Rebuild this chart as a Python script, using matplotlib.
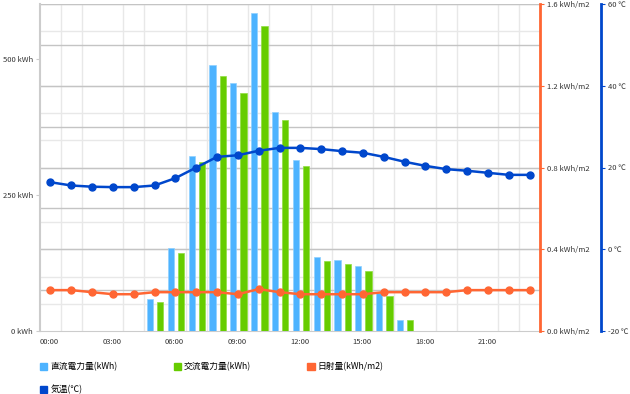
import matplotlib
matplotlib.use("Agg")
import matplotlib.pyplot as plt
import matplotlib.transforms as mtransforms
from matplotlib.patches import Patch
import numpy as np

plt.rcParams["font.family"] = ["Noto Sans CJK JP", "DejaVu Sans"]

hours = list(range(24))
hour_labels = ["00:00", "03:00", "06:00", "09:00", "12:00", "15:00", "18:00", "21:00"]

dc_kwh = [0, 0, 0, 0, 0, 59, 152, 322, 488, 455, 583, 402, 314, 136, 131, 119, 69, 21, 0, 0, 0, 0, 0, 0]
ac_kwh = [0, 0, 0, 0, 0, 54, 144, 310, 468, 437, 560, 387, 303, 128, 123, 111, 65, 20, 0, 0, 0, 0, 0, 0]
solar = [0.20, 0.20, 0.19, 0.18, 0.18, 0.19, 0.19, 0.19, 0.19, 0.18, 0.205, 0.19,
         0.18, 0.18, 0.18, 0.18, 0.19, 0.19, 0.19, 0.19, 0.20, 0.20, 0.20, 0.20]
temp = [16.4, 15.6, 15.3, 15.2, 15.2, 15.6, 17.4, 20.0, 22.6, 23.0, 24.1, 24.8,
        24.8, 24.5, 24.0, 23.6, 22.6, 21.4, 20.4, 19.6, 19.2, 18.7, 18.2, 18.2]

C_DC = "#4db3ff"
C_AC = "#66cc00"
C_SOLAR = "#ff6633"
C_TEMP = "#0047cc"

KWH_MAX = 600
SOLAR_MAX = 1.6

fig = plt.figure(figsize=(6.3, 3.94), dpi=100)
ax = fig.add_axes([40 / 630, 63 / 394, 500 / 630, 327 / 394])
ax2 = ax.twinx()
ax3 = ax.twinx()

x = np.array(hours)
ax.bar(x + 0.28, dc_kwh, width=0.3, color=C_DC, edgecolor="#8fd0ff", linewidth=0.5, zorder=3)
ax.bar(x + 0.77, ac_kwh, width=0.3, color=C_AC, edgecolor="#90dd40", linewidth=0.5, zorder=3)

ax.set_xlim(0, 24)
ax.set_ylim(0, KWH_MAX)
ax.set_yticks([0, 250, 500])
ax.set_yticklabels(["0 kWh", "250 kWh", "500 kWh"])
ax.set_yticks(np.arange(0, KWH_MAX + 1, 50), minor=True)
ax.grid(which="minor", axis="y", color="#e8e8e8", linewidth=1, zorder=0)
# solar-axis grid (every 0.2 kWh/m2), drawn on the base axes so it stays under the bars
for v in np.arange(0.2, SOLAR_MAX + 0.01, 0.2):
    ax.axhline(v / SOLAR_MAX * KWH_MAX, color="#c4c4c4", linewidth=1, zorder=1)
ax.set_xticks(range(0, 24, 3))
ax.set_xticklabels(hour_labels, ha="left")
shift = mtransforms.ScaledTranslation(3 / 100, 0, fig.dpi_scale_trans)
for lbl in ax.get_xticklabels():
    lbl.set_transform(lbl.get_transform() + shift)
ax.set_xticks(range(0, 25), minor=True)
ax.grid(which="minor", axis="x", color="#e8e8e8", linewidth=1, zorder=0)
ax.tick_params(axis="x", which="both", length=0, labelsize=5.5, labelcolor="#333333", pad=5)
ax.tick_params(axis="y", which="major", length=3, color="#cccccc", labelsize=5.5, labelcolor="#333333", pad=2)
ax.tick_params(axis="y", which="minor", length=0)
ax.set_axisbelow(True)
for s in ["top", "right"]:
    ax.spines[s].set_visible(False)
ax.spines["left"].set_color("#cccccc")
ax.spines["left"].set_linewidth(1.5)
ax.spines["bottom"].set_color("#cccccc")

# solar axis
ax2.plot(x + 0.5, solar, color=C_SOLAR, marker="o", markersize=5, linewidth=1.8, zorder=5)
ax2.set_ylim(0, SOLAR_MAX)
ax2.set_yticks([0.0, 0.4, 0.8, 1.2, 1.6])
ax2.set_yticklabels(["0.0 kWh/m2", "0.4 kWh/m2", "0.8 kWh/m2", "1.2 kWh/m2", "1.6 kWh/m2"])
ax2.tick_params(axis="y", length=3, color=C_SOLAR, labelsize=5.5, labelcolor="#333333", pad=2)
for s in ["top", "left", "bottom"]:
    ax2.spines[s].set_visible(False)
ax2.spines["right"].set_color(C_SOLAR)
ax2.spines["right"].set_linewidth(2)
ax2.set_zorder(ax.get_zorder() + 1)
ax2.patch.set_visible(False)

# temperature axis
ax3.plot(x + 0.5, temp, color=C_TEMP, marker="o", markersize=5, linewidth=1.8, zorder=5)
ax3.set_ylim(-20, 60)
ax3.set_yticks([-20, 0, 20, 40, 60])
ax3.set_yticklabels(["-20 ℃", "0 ℃", "20 ℃", "40 ℃", "60 ℃"])
ax3.spines["right"].set_position(("axes", 1.122))
for s in ["top", "left", "bottom"]:
    ax3.spines[s].set_visible(False)
ax3.spines["right"].set_color(C_TEMP)
ax3.spines["right"].set_linewidth(2)
ax3.tick_params(axis="y", length=3, color=C_TEMP, labelsize=5.5, labelcolor="#333333", pad=2)
ax3.set_zorder(ax2.get_zorder() + 1)
ax3.patch.set_visible(False)

handles = [
    Patch(color=C_DC, label="直流電力量(kWh)"),
    Patch(color=C_TEMP, label="気温(℃)"),
    Patch(color=C_AC, label="交流電力量(kWh)"),
    Patch(color=C_SOLAR, label="日射量(kWh/m2)"),
]
fig.legend(handles=handles, ncol=3, loc="upper left", bbox_to_anchor=(40 / 630, 1 - 362 / 394),
           frameon=False, fontsize=6.3, handlelength=0.85, handleheight=0.85, handletextpad=0.35,
           columnspacing=6.4, labelspacing=1.55, borderaxespad=0, borderpad=0)

fig.savefig("out.png", dpi=100)
